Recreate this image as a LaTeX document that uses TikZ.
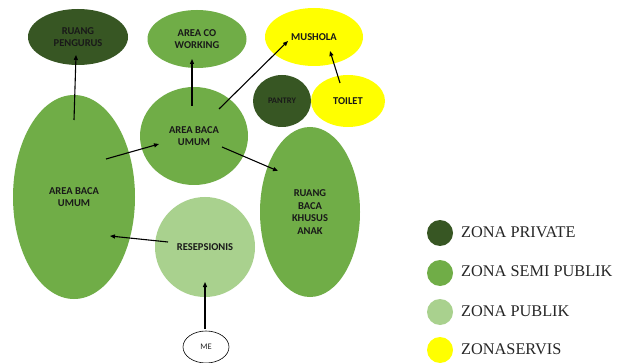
\documentclass[tikz,border=0pt]{standalone}
\usepackage{fontspec}
\setmainfont{Carlito}
\newfontfamily\legfont{Liberation Serif}
\usetikzlibrary{shapes.geometric,arrows.meta,calc}
\definecolor{zpriv}{HTML}{375623}
\definecolor{zsemi}{HTML}{70AD47}
\definecolor{zpub}{HTML}{A9D18E}
\definecolor{zserv}{HTML}{FFFF00}
\tikzset{
  zone/.style={ellipse, inner sep=0pt, align=center, font=\bfseries\fontsize{10.5}{12.5}\selectfont, text=black!90},
  arr/.style={-{Triangle[length=5pt,width=4pt]}, line width=1.1pt, black},
  legdot/.style={circle, minimum size=26pt, inner sep=0pt},
  legtxt/.style={anchor=west, inner sep=0pt, font=\legfont\fontsize{16.3}{16}\selectfont, text=black!85}
}
\begin{document}
\begin{tikzpicture}[x=1pt,y=-1pt]
\useasboundingbox (0,0) rectangle (628,363);
\clip (0,0) rectangle (628,363);
\fill[white] (0,0) rectangle (628,363);
% zones
\node[zone, fill=zpriv, minimum width=100pt, minimum height=56pt] (peng) at (78,37) {RUANG\\PENGURUS};
\node[zone, fill=zsemi, minimum width=99pt, minimum height=58pt] (cowork) at (197,39) {AREA CO\\WORKING};
\node[zone, fill=zserv, minimum width=98pt, minimum height=58pt] (mush) at (314,37) {MUSHOLA};
\node[zone, fill=zpriv, minimum width=58pt, minimum height=52pt, font=\bfseries\fontsize{8.5}{9}\selectfont] (pantry) at (282,101) {PANTRY};
\node[zone, fill=zserv, minimum width=74pt, minimum height=52pt] (toilet) at (348,101) {TOILET};
\node[zone, fill=zsemi, minimum width=108pt, minimum height=98pt] (mid) at (194,136) {AREA BACA\\UMUM};
\node[zone, fill=zsemi, minimum width=122pt, minimum height=204pt] (left) at (74,197) {AREA BACA\\UMUM};
\node[zone, fill=zsemi, minimum width=100pt, minimum height=170pt] (anak) at (310,212) {RUANG\\BACA\\KHUSUS\\ANAK};
\node[zone, fill=zpub, circle, minimum size=100pt] (resep) at (205,247) {RESEPSIONIS};
\node[ellipse, draw=black, line width=0.6pt, fill=white, minimum width=46pt, minimum height=32pt, inner sep=0pt, font=\fontsize{8.5}{9}\selectfont, text=black!85] (me) at (206,347) {ME};
% arrows
\draw[arr] ($(left)+(0,-77)$) -- ($(peng)+(-2,18)$);
\draw[arr] ($(mid)+(-2,-30)$) -- ($(cowork)+(-5,20)$);
\draw[arr] ($(mid)+(25,-27)$) -- ($(mush)+(-26,4)$);
\draw[arr] ($(toilet)+(-8,-18)$) -- ($(mush)+(16,14)$);
\draw[arr] ($(left)+(32,-38)$) -- ($(mid)+(-35,8)$);
\draw[arr] ($(mid)+(28,11)$) -- ($(anak)+(-32,-41)$);
\draw[arr] ($(resep)+(-37,-5)$) -- ($(left)+(36,39)$);
\draw[arr] ($(me)+(-1,-18)$) -- ($(resep)+(0,35)$);
% legend
\node[legdot, fill=zpriv] (l1) at (440,233) {};
\node[legdot, fill=zsemi] (l2) at (440,273) {};
\node[legdot, fill=zpub] (l3) at (440,312) {};
\node[legdot, fill=zserv] (l4) at (440,350) {};
\node[legtxt] (t1) at (461,232) {ZONA PRIVATE};
\node[legtxt] (t2) at (461,271) {ZONA SEMI PUBLIK};
\node[legtxt] (t3) at (461,311) {ZONA PUBLIK};
\node[legtxt] (t4) at (461,349) {ZONASERVIS};
\end{tikzpicture}
\end{document}
